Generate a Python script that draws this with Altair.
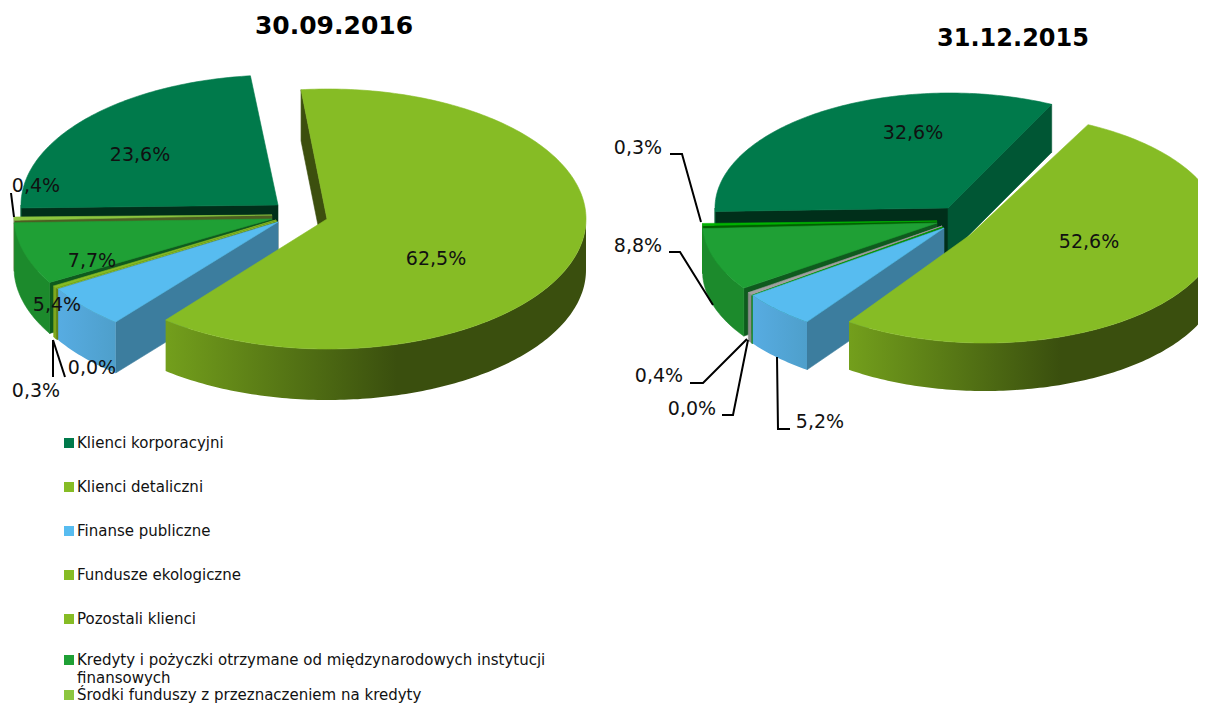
import numpy as np
import pandas as pd
import altair as alt

W, H = 1190, 697
SX = alt.Scale(domain=[8, 8 + W], range=[0, W], nice=False, zero=False)
SY = alt.Scale(domain=[8 + H, 8], range=[H, 0], nice=False, zero=False)

# ---- values
categories = ["Klienci korporacyjni", "Klienci detaliczni", "Finanse publiczne", "Fundusze ekologiczne",
              "Pozostali klienci", "Kredyty i pożyczki otrzymane od międzynarodowych instytucji finansowych",
              "Środki funduszy z przeznaczeniem na kredyty"]
shares_2016 = [23.6, 62.5, 5.4, 0.0, 0.3, 7.7, 0.4]
shares_2015 = [32.6, 52.6, 5.2, 0.0, 0.4, 8.8, 0.3]
labels_2016 = ["23,6%", "62,5%", "5,4%", "0,0%", "0,3%", "7,7%", "0,4%"]
labels_2015 = ["32,6%", "52,6%", "5,2%", "0,0%", "0,4%", "8,8%", "0,3%"]

# ---- layout and styles
label_pos_2016 = [(140, 155), (436, 259), (57, 305), (92, 368), (36, 391), (92, 261), (36, 186)]
label_pos_2015 = [(913, 133), (1089, 242), (820, 422), (692, 409), (659, 376), (638, 246), (638, 148)]
leaders_2016 = [[(11, 193), (14, 217)], [(53, 340), (53, 377)], [(53, 340), (65, 377)]]
leaders_2015 = [[(670, 154), (682, 154), (701, 222)], [(669, 252), (680, 252), (713, 305)],
                [(690, 383), (703, 383), (747, 339)], [(722, 415), (733, 415), (748, 340)],
                [(790, 429), (778, 429), (777, 357)]]
# slice index order: corp, retail, public, fund, other, loans, funds
centers_2016 = [(279, 205), (328, 219), (278, 221), (277, 220.5), (276, 220), (272, 216.5), (272, 214)]
apex_2016 = [(278, 205), (327, 219), (278, 222), (277, 221), (276, 220), (272, 219), (272, 215)]
centers_2015 = [(950, 208), (985, 228), (943, 228), (942.5, 228), (942, 227.5), (937.5, 223), (937.5, 220)]
apex_2015 = [(948, 208), (970, 235), (944, 228), (943, 227), (942, 226), (937, 223), (937, 221)]
draw_order = [0, 6, 5, 4, 3, 2, 1]

def rim_grad(stops):
    return alt.Gradient(gradient="linear", x1=0, y1=0, x2=1, y2=0,
                        stops=[alt.GradientStop(offset=o, color=c) for o, c in stops])

style_2016 = {
    0: dict(top="#007A4B", rim="#006238", wall="#002F1A", wall2="#005634"),
    1: dict(top="#86BC25", rim=rim_grad([(0, "#739F1C"), (.55, "#3A4F0E"), (1, "#3A4F0E")]), wall="#3C4F0E", wall2="#3C4F0E"),
    2: dict(top="#57BCF0", rim=rim_grad([(0, "#57ACE2"), (1, "#4E9FCB")]), wall="#3C7D9E", wall2="#3C7D9E"),
    3: dict(top="#86BC25", rim="#6A8F1A", wall="#4A6412", wall2="#4A6412"),
    4: dict(top="#86BC25", rim="#7FA81F", wall="#5C7A16", wall2="#5C7A16"),
    5: dict(top="#1FA035", rim="#1C8A2C", wall="#0F5A1E", wall2="#0F5A1E"),
    6: dict(top="#8CC63F", rim="#6F7F45", wall="#4C5E22", wall2="#4C5E22"),
}
style_2015 = dict(style_2016)
style_2015[1] = dict(top="#86BC25", rim=rim_grad([(0, "#739F1C"), (.57, "#3A4F0E"), (1, "#3A4F0E")]), wall="#3C4F0E", wall2="#3C4F0E")
style_2015[3] = dict(top="#00A000", rim="#008A00", wall="#006000", wall2="#006000")
style_2015[4] = dict(top="#A0A0A0", rim="#8C8C8C", wall="#6E6E6E", wall2="#6E6E6E")
style_2015[6] = dict(top="#00B400", rim="#009000", wall="#006000", wall2="#006000")

legend_colors = ["#007A4B", "#86BC25", "#57BCF0", "#86BC25", "#86BC25", "#1FA035", "#8CC63F"]
legend_lines = [["Klienci korporacyjni"], ["Klienci detaliczni"], ["Finanse publiczne"], ["Fundusze ekologiczne"],
                ["Pozostali klienci"], ["Kredyty i pożyczki otrzymane od międzynarodowych instytucji", "finansowych"],
                ["Środki funduszy z przeznaczeniem na kredyty"]]
legend_y = [443, 487, 531, 575, 619, 660, 695]

layers = []

def x_(): return alt.X("x:Q", scale=SX, axis=None)
def y_(): return alt.Y("y:Q", scale=SY, axis=None)

def poly(pts, fill, stroke=None, sw=0.6):
    df = pd.DataFrame({"x": [p[0] for p in pts], "y": [p[1] for p in pts], "i": range(len(pts))})
    kw = dict(fill=fill, interpolate="linear-closed", strokeWidth=sw)
    kw["stroke"] = stroke if stroke else (fill if isinstance(fill, str) else "transparent")
    layers.append(alt.Chart(df).mark_line(**kw).encode(x=x_(), y=y_(), order=alt.Order("i:Q")))

def pie(shares, centers, apexes, styles, t0, rx, ry, depth):
    spans = np.array(shares) * 3.6
    seq = [1, 2, 3, 4, 5, 6, 0]
    ang = {}
    a = t0
    for k in seq:
        ang[k] = (a, a + spans[k])
        a += spans[k]
    for k in draw_order:
        a, b = ang[k]
        cx, cy = centers[k]
        ax, ay = apexes[k]
        st = styles[k]
        def P(t, d=0):
            r = np.radians(t)
            return (cx + rx * np.sin(r), cy - ry * np.cos(r) + d)
        if np.sin(np.radians(a)) < 0:
            poly([(ax, ay), P(a), P(a, depth), (ax, ay + depth)], st["wall"])
        if np.sin(np.radians(b)) > 0:
            poly([(ax, ay), P(b), P(b, depth), (ax, ay + depth)], st["wall2"])
        for off in (0, 360):
            lo, hi = max(a, 90 + off), min(b, 270 + off)
            if hi >= lo:
                ts = np.linspace(lo, hi, max(2, int(hi - lo) + 2))
                pts = [P(t) for t in ts] + [P(t, depth) for t in ts[::-1]]
                poly(pts, st["rim"], sw=1.2 if hi - lo < .01 else 0.6)
        ts = np.linspace(a, b, max(2, int(b - a) + 2))
        poly([(ax, ay)] + [P(t) for t in ts], st["top"], sw=1.2 if b - a < .01 else 0.6)

pie(shares_2016, centers_2016, apex_2016, style_2016, -6, 258, 130, 51)
pie(shares_2015, centers_2015, apex_2015, style_2015, 26, 235, 115, 48)

for lead in leaders_2016 + leaders_2015:
    df = pd.DataFrame({"x": [p[0] for p in lead], "y": [p[1] for p in lead], "i": range(len(lead))})
    layers.append(alt.Chart(df).mark_line(color="#000000", strokeWidth=2).encode(x=x_(), y=y_(), order=alt.Order("i:Q")))

lab = pd.DataFrame({"t": labels_2016 + labels_2015,
                    "x": [p[0] for p in label_pos_2016 + label_pos_2015],
                    "y": [p[1] for p in label_pos_2016 + label_pos_2015]})
layers.append(alt.Chart(lab).mark_text(font="DejaVu Sans", fontSize=19, color="#111111", align="center", baseline="middle")
              .encode(x=x_(), y=y_(), text="t:N"))

titles = pd.DataFrame({"t": ["30.09.2016", "31.12.2015"], "x": [334, 1013], "y": [26, 39], "s": [25, 24]})
for _, r in titles.iterrows():
    layers.append(alt.Chart(pd.DataFrame([r])).mark_text(font="DejaVu Sans", fontWeight="bold", fontSize=int(r.s), color="#000000",
                                                         align="center", baseline="middle")
                  .encode(x=x_(), y=y_(), text="t:N"))

leg = pd.DataFrame({"c": categories, "col": legend_colors, "y": legend_y, "x": [69] * 7})
layers.append(alt.Chart(leg).mark_square(size=100, opacity=1, filled=True)
              .encode(x=x_(), y=y_(), color=alt.Color("col:N", scale=None)))
rows = []
for lines, y in zip(legend_lines, legend_y):
    if len(lines) == 1:
        rows.append(dict(t=lines[0], x=77, y=y))
    else:
        rows.append(dict(t=lines[0], x=77, y=y))
        rows.append(dict(t=lines[1], x=77, y=y + 18))
layers.append(alt.Chart(pd.DataFrame(rows)).mark_text(font="DejaVu Sans", fontSize=15, color="#111111", align="left", baseline="middle")
              .encode(x=x_(), y=y_(), text="t:N"))

chart = alt.layer(*layers).properties(width=W, height=H, padding=0, autosize=alt.AutoSizeParams(type="none")).configure_view(stroke=None)
chart.save("out.html", embed_options={"renderer": "svg", "actions": False})
